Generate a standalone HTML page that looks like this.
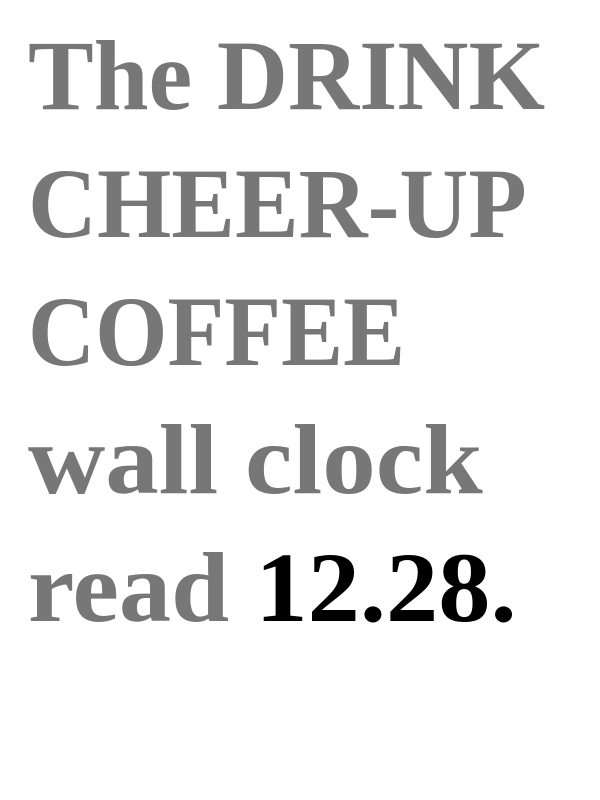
<!DOCTYPE html>
<html>
<head>
<meta charset="utf-8">
<style>
  html, body { margin: 0; padding: 0; background: #ffffff; }
  body { width: 600px; height: 800px; overflow: hidden; position: relative; }
  .caption {
    position: absolute;
    left: 28px;
    top: 12px;
    margin: 0;
    font-family: "Liberation Serif", serif;
    font-weight: bold;
    font-size: 100px;
    line-height: 128px;
    color: #777777;
    white-space: nowrap;
  }
  .ln { display: block; transform-origin: 0 50%; }
  .l1 { transform: scaleX(0.985); }
  .l2 { transform: scaleX(0.955); }
  .l3 { transform: scaleX(0.93); }
  .l4 { transform: scaleX(1.07); }
  .l5 { transform: scaleX(1.045); }
  .time { color: #000000; }
</style>
</head>
<body>
  <p class="caption"><span class="ln l1">The DRINK</span><span class="ln l2">CHEER-UP</span><span class="ln l3">COFFEE</span><span class="ln l4">wall clock</span><span class="ln l5">read <span class="time">12.28.</span></span></p>
</body>
</html>
